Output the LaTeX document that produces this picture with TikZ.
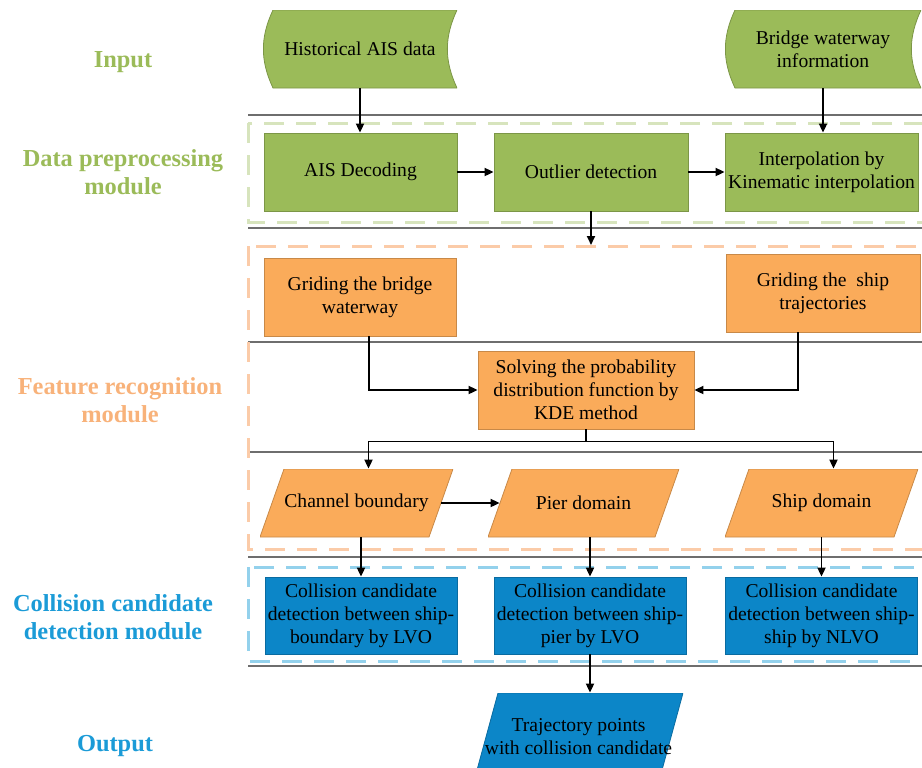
\documentclass[tikz,border=0pt]{standalone}
\usepackage{fontspec}
\setmainfont{Liberation Serif}
\usetikzlibrary{arrows.meta}
\definecolor{modgreen}{HTML}{9BBB59}
\definecolor{modorange}{HTML}{FAAB5A}
\definecolor{modblue}{HTML}{0C86C8}
\definecolor{lblorange}{HTML}{F8B27A}
\definecolor{lblblue}{HTML}{1B9BD7}
\definecolor{dashgreen}{HTML}{D7E4BD}
\definecolor{dashorange}{HTML}{FBCBA8}
\definecolor{dashblue}{HTML}{93D1EC}
\definecolor{sepgray}{HTML}{6E6E6E}
\begin{document}
\begin{tikzpicture}[x=0.5pt,y=-0.5pt,
    >={Triangle[length=4.5pt,width=4pt]},
    flow/.style={->,line width=0.9pt},
    sepline/.style={draw=sepgray,line width=0.75pt},
    dashbox/.style={draw=#1,line width=1.5pt,dash pattern=on 10pt off 6pt},
    lbl/.style={font=\fontsize{12.2}{14}\selectfont\bfseries,align=center,text=#1},
    boxtext/.style={font=\fontsize{9.8}{11.5}\selectfont,align=center,inner sep=0pt,
        minimum width=#1},
    procbox/.style={boxtext=96.5pt,minimum height=39pt,fill=#1,draw=#1!80!black,line width=0.4pt},
    slantbox/.style={boxtext=96.5pt,minimum height=34pt,path picture={
        \filldraw[fill=#1,draw=#1!80!black,line width=0.4pt]
          (path picture bounding box.south west)
          -- ([xshift=12pt]path picture bounding box.north west)
          -- (path picture bounding box.north east)
          -- ([xshift=-12pt]path picture bounding box.south east) -- cycle;}},
    inshape/.style={boxtext=97pt,minimum height=39pt,path picture={
        \filldraw[fill=modgreen,draw=modgreen!80!black,line width=0.4pt]
          ([xshift=5pt]path picture bounding box.north west)
          -- (path picture bounding box.north east)
          to[bend right=25] (path picture bounding box.south east)
          -- ([xshift=5pt]path picture bounding box.south west)
          to[bend left=25] ([xshift=5pt]path picture bounding box.north west);}}]
    \useasboundingbox (0,0) rectangle (922,767);

    \node[lbl=modgreen] (lin) at (123,62) {Input};
    \node[lbl=modgreen] (lpre) at (123,172) {Data preprocessing\\module};
    \node[lbl=lblorange] (lfeat) at (120,400) {Feature recognition\\module};
    \node[lbl=lblblue] (ldet) at (113,617) {Collision candidate\\detection module};
    \node[lbl=lblblue] (lout) at (115,746) {Output};

    \draw[sepline] (248,115) -- (922,115);
    \draw[sepline] (248,228) -- (922,228);
    \draw[sepline] (248,342) -- (922,342);
    \draw[sepline] (248,452) -- (922,452);
    \draw[sepline] (248,557) -- (922,557);
    \draw[sepline] (248,666) -- (922,666);
    \draw[dashbox=dashgreen] (248,123) rectangle (935,222);
    \draw[dashbox=dashorange] (248,246) rectangle (935,549);
    \draw[dashbox=dashblue] (248,567) rectangle (935,661);

    \node[inshape] (hist) at (360,49) {Historical AIS data};
    \node[inshape,minimum width=98pt] (bridge) at (823,49) {Bridge waterway\\information};

    \node[procbox=modgreen] (ais) at (360.5,172) {AIS Decoding};
    \node[procbox=modgreen,minimum width=97pt] (outl) at (591,172) {Outlier detection};
    \node[procbox=modgreen] (interp) at (821.5,172) {Interpolation by\\Kinematic interpolation};

    \node[procbox=modorange,minimum width=96pt] (grid1) at (360,297) {Griding the bridge\\waterway};
    \node[procbox=modorange,minimum width=97pt] (grid2) at (823,293) {Griding the\ \ ship\\trajectories};
    \node[procbox=modorange,minimum width=108pt] (kde) at (586,390) {Solving the probability\\distribution function by\\KDE method};

    \node[slantbox=modorange] (chan) at (356.5,503) {Channel boundary};
    \node[slantbox=modorange,minimum width=95.5pt] (pier) at (583.5,503) {Pier domain};
    \node[slantbox=modorange] (ship) at (821.5,503) {Ship domain};

    \node[procbox=modblue,minimum width=96pt,minimum height=38.5pt] (coll1) at (361,615.5) {Collision candidate\\detection between ship-\\boundary by LVO};
    \node[procbox=modblue,minimum width=96pt,minimum height=38.5pt] (coll2) at (590,615.5) {Collision candidate\\detection between ship-\\pier by LVO};
    \node[procbox=modblue,minimum width=96pt,minimum height=38.5pt] (coll3) at (821.5,615.5) {Collision candidate\\detection between ship-\\ship by NLVO};

    \node[slantbox=modblue,minimum width=104.5pt,minimum height=44pt] (outp) at (578.5,737) {Trajectory points\\with collision candidate};

    \coordinate (orgtop) at (587,245);
    \draw[flow] (hist.south) -- (hist.south |- ais.north);
    \draw[flow] (bridge.south) -- (bridge.south |- interp.north);
    \draw[flow] (ais.east) -- (outl.west);
    \draw[flow] (outl.east) -- (interp.west);
    \draw[flow] (outl.south) -- (outl.south |- orgtop);
    \draw[flow] ([xshift=4.5pt]grid1.south) |- (kde.west);
    \draw[flow] ([xshift=-12.5pt]grid2.south) |- (kde.east);
    \draw[flow] (kde.south) -- ++(0,12) -| ([xshift=6pt]chan.north);
    \draw[flow] (kde.south) -- ++(0,12) -| ([xshift=6pt]ship.north);
    \draw[flow] ([xshift=-6pt]chan.east) -- ([xshift=6pt]pier.west);
    \draw[flow] (chan.south -| coll1.north) -- (coll1.north);
    \draw[flow] (pier.south -| coll2.north) -- (coll2.north);
    \draw[flow] (ship.south -| coll3.north) -- (coll3.north);
    \draw[flow] (coll2.south) -- (coll2.south |- outp.north);
\end{tikzpicture}
\end{document}
